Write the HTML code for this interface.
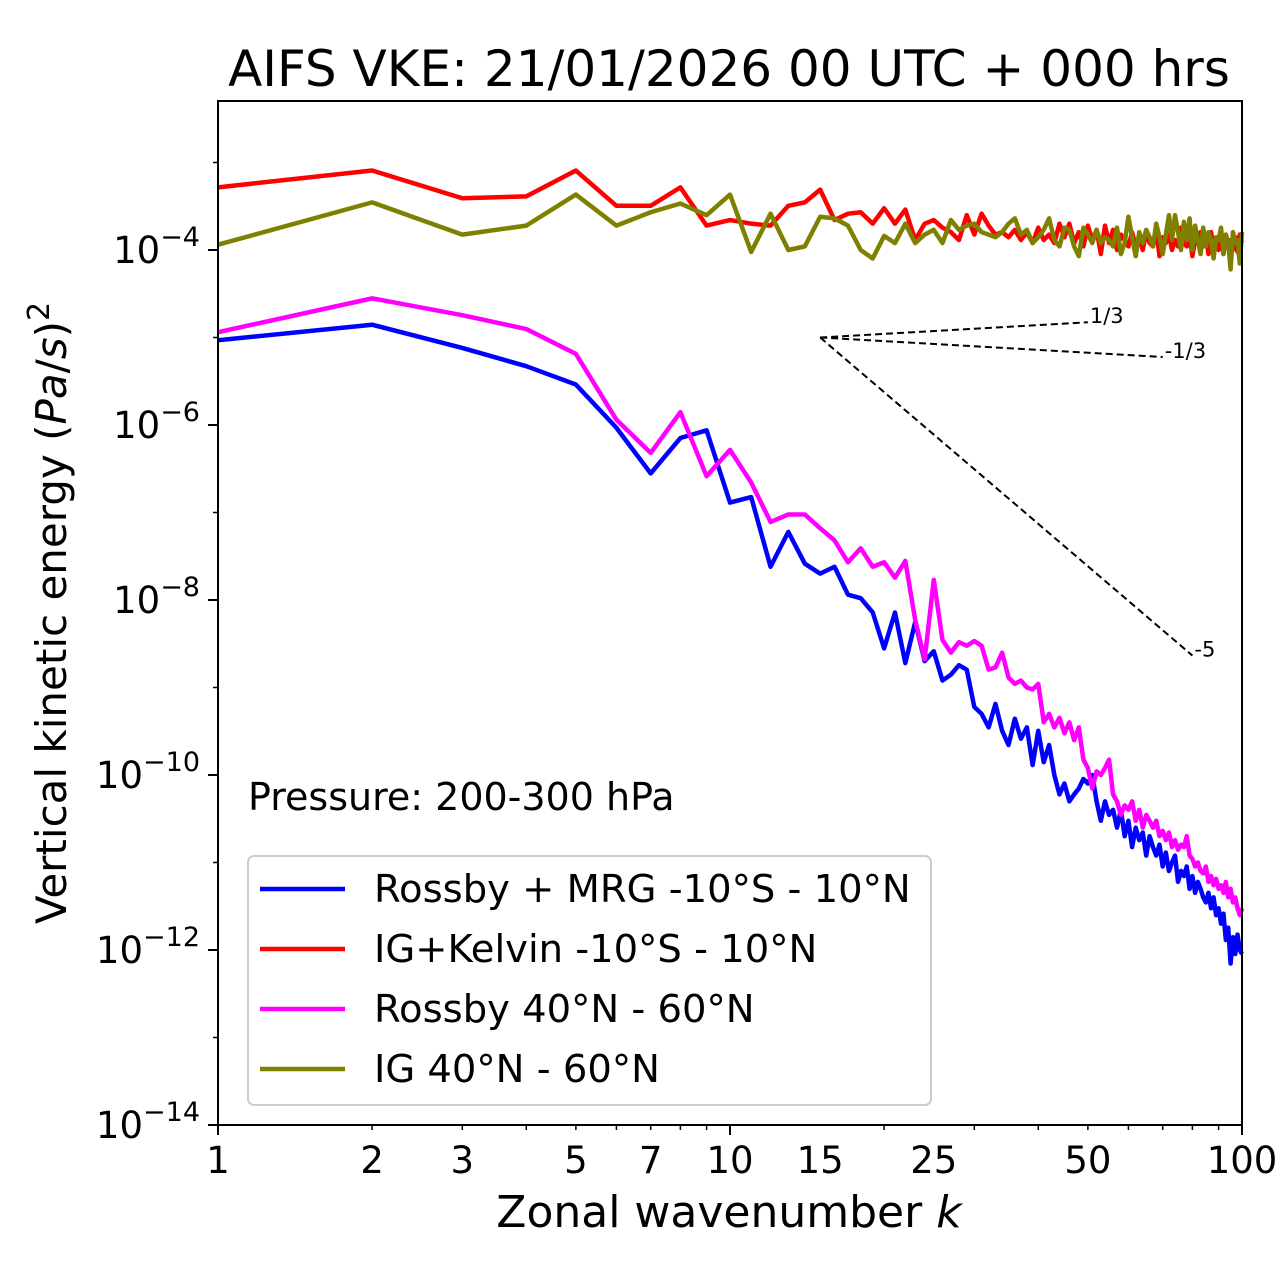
<!DOCTYPE html>
<html><head><meta charset="utf-8"><style>
body{margin:0;background:#fff;}
svg{display:block;font-family:"DejaVu Sans","Liberation Sans",sans-serif;}
</style></head><body>
<svg id="chart" width="1280" height="1288" viewBox="0 0 1280 1288" xmlns="http://www.w3.org/2000/svg">
<rect x="0" y="0" width="1280" height="1288" fill="#fff"/>
<text x="729" y="86" font-size="50" text-anchor="middle">AIFS VKE: 21/01/2026 00 UTC + 000 hrs</text>
<g id="series"></g>
<g id="ticks"></g>
<rect x="218" y="101" width="1024" height="1024" fill="none" stroke="#000" stroke-width="2"/>
<text x="729" y="1227" font-size="44" text-anchor="middle">Zonal wavenumber <tspan font-style="italic">k</tspan></text>
<text transform="translate(66,613) rotate(-90)" font-size="42" text-anchor="middle">Vertical kinetic energy (<tspan font-style="italic">Pa</tspan>/<tspan font-style="italic">s</tspan>)<tspan dy="-17" font-size="30">2</tspan></text>
<text x="248" y="810" font-size="38">Pressure: 200-300 hPa</text>
<g>
<rect x="248" y="856" width="683" height="249" rx="6" fill="#fff" fill-opacity="0.8" stroke="#ccc" stroke-width="2"/>
<line x1="260" y1="889" x2="345" y2="889" stroke="#0000ff" stroke-width="4.5"/>
<text x="374" y="902" font-size="38.5">Rossby + MRG -10°S - 10°N</text>
<line x1="260" y1="949" x2="345" y2="949" stroke="#ff0000" stroke-width="4.5"/>
<text x="374" y="962" font-size="38.5">IG+Kelvin -10°S - 10°N</text>
<line x1="260" y1="1009" x2="345" y2="1009" stroke="#ff00ff" stroke-width="4.5"/>
<text x="374" y="1022" font-size="38.5">Rossby 40°N - 60°N</text>
<line x1="260" y1="1069" x2="345" y2="1069" stroke="#808000" stroke-width="4.5"/>
<text x="374" y="1082" font-size="38.5">IG 40°N - 60°N</text>
</g>
</svg>
<script>
const xTickValues=[1,2,3,5,7,10,15,25,50,100];
const yTickExps=[-4,-6,-8,-10,-12,-14];
const refStartK=15, refStartV=1e-5;
const refSlopes=[1/3,-1/3,-5];
const refEndK=[50,70,80];
const refLabels=["1/3","-1/3","-5"];
const headRossbyMrg=[9.3e-6,1.4e-5,7.6e-6,4.7e-6,2.9e-6,9.3e-7,2.8e-7,7.1e-7,8.7e-7,1.3e-7,1.5e-7,2.4e-8,6e-8,2.6e-8,2.0e-8,2.4e-8,1.15e-8,1.05e-8,7.2e-9,2.8e-9,7.2e-9,1.9e-9,5.6e-9,2e-9];
const tailRossbyMrg=[2.6e-9,1.2e-9,1.4e-9,1.8e-9,1.6e-9,6e-10,5e-10,3.5e-10,6.5e-10,3.2e-10,2.2e-10,4.4e-10,2.6e-10,3.5e-10,1.3e-10,3.2e-10,1.4e-10,2.2e-10,1e-10,6e-11,8e-11,5e-11,6e-11,7e-11,9e-11,8e-11,1e-10,5e-11,3e-11,5e-11,3.5e-11,4e-11,2.5e-11,4e-11,2e-11,3e-11,1.5e-11,2.5e-11,1.8e-11,2.2e-11,1.2e-11,2e-11,1.5e-11,1.2e-11,1.6e-11,9e-12,1.3e-11,8e-12,1e-11,1.2e-11,6e-12,8e-12,7e-12,9e-12,5e-12,7e-12,4.5e-12,6e-12,5e-12,4e-12,3.5e-12,4.5e-12,3e-12,4e-12,2.5e-12,3e-12,2e-12,2.6e-12,1.3e-12,1.8e-12,7e-13,1.4e-12,9e-13,1.5e-12,1e-12,9e-13];
const headIgKelvin=[5.2e-4,8.1e-4,3.9e-4,4.1e-4,8.1e-4,3.2e-4,3.2e-4,5.2e-4,1.9e-4,2.2e-4,2.0e-4,1.9e-4,3.2e-4,3.5e-4,4.9e-4,2.2e-4,2.6e-4,2.7e-4,2.0e-4,3.0e-4,2.0e-4,2.9e-4,1.3e-4,2e-4];
const tailIgKelvin=[2.2e-4,1.8e-4,1.6e-4,1.3e-4,2.5e-4,1.5e-4,2.6e-4,1.9e-4,1.5e-4,1.6e-4,1.4e-4,1.7e-4,1.3e-4,1.6e-4,1.2e-4,1.8e-4,1.3e-4,1.5e-4,1.2e-4,2e-4,1.4e-4,2e-4,1.2e-4,1.6e-4,1.1e-4,1.9e-4,1.3e-4,1.7e-4,9e-5,1.9e-4,1.2e-4,1.7e-4,1e-4,1.5e-4,1.3e-4,1.1e-4,1.6e-4,1.1e-4,1.4e-4,1e-4,1.6e-4,1.2e-4,1.1e-4,1.7e-4,8.5e-5,1.4e-4,1.2e-4,1.5e-4,1e-4,1.3e-4,1.1e-4,1.8e-4,1.2e-4,1.1e-4,1.5e-4,8.5e-5,1.3e-4,1.2e-4,1.6e-4,1.1e-4,1.5e-4,9e-5,1.6e-4,1.1e-4,1.3e-4,1e-4,1.4e-4,9e-5,1.5e-4,1.1e-4,1.3e-4,1e-4,1.4e-4,9.5e-5,1.5e-4,1.2e-4];
const headRossbyMid=[1.15e-5,2.8e-5,1.8e-5,1.25e-5,6.5e-6,1.15e-6,4.8e-7,1.4e-6,2.6e-7,5.2e-7,2.2e-7,7.8e-8,9.5e-8,9.5e-8,6.6e-8,4.8e-8,2.7e-8,3.9e-8,2.4e-8,2.7e-8,1.8e-8,2.8e-8,5.9e-9,2.1e-9];
const tailRossbyMid=[1.7e-8,3.5e-9,2.5e-9,3.3e-9,3e-9,3.4e-9,3e-9,1.6e-9,1.7e-9,2.5e-9,1.3e-9,1.1e-9,1.2e-9,1e-9,9.5e-10,1.1e-9,4e-10,5e-10,3.5e-10,4.5e-10,3e-10,4e-10,2.5e-10,3.5e-10,1.5e-10,1.2e-10,7e-11,1.1e-10,1e-10,1.2e-10,1.5e-10,6e-11,5e-11,3.5e-11,4.5e-11,4e-11,5e-11,3e-11,4e-11,2.5e-11,3.5e-11,3e-11,2.5e-11,3e-11,2e-11,2.3e-11,1.8e-11,2.2e-11,1.5e-11,1.8e-11,1.4e-11,1.6e-11,1.5e-11,2e-11,1.2e-11,1.1e-11,9e-12,1e-11,8e-12,7.5e-12,9e-12,6e-12,7e-12,5.5e-12,6.5e-12,5e-12,5.5e-12,4.5e-12,6e-12,4e-12,5e-12,3.5e-12,4e-12,3e-12,2.5e-12,3e-12];
const headIgMid=[1.15e-4,3.5e-4,1.5e-4,1.9e-4,4.3e-4,1.9e-4,2.7e-4,3.4e-4,2.5e-4,4.3e-4,9.5e-5,2.6e-4,1e-4,1.1e-4,2.4e-4,2.3e-4,1.9e-4,1e-4,8e-5,1.45e-4,1.2e-4,2e-4,1.2e-4,1.5e-4];
const tailIgMid=[1.7e-4,1.2e-4,2.2e-4,1.7e-4,1.9e-4,2e-4,1.6e-4,1.5e-4,1.4e-4,1.6e-4,2e-4,2.3e-4,1.5e-4,1.7e-4,1.2e-4,1.4e-4,1.7e-4,2.3e-4,1.3e-4,1.1e-4,1.8e-4,1.7e-4,1.1e-4,8.5e-5,1.8e-4,1.5e-4,1.2e-4,1.7e-4,1.2e-4,1.4e-4,1.3e-4,1.1e-4,1.8e-4,9e-5,1.2e-4,2.4e-4,1.4e-4,8.5e-5,1.6e-4,1.2e-4,1.7e-4,1.4e-4,1.1e-4,2e-4,1.4e-4,9e-5,1.5e-4,2.5e-4,1.3e-4,2.5e-4,1.6e-4,1e-4,2.1e-4,1.3e-4,2.3e-4,1e-4,1.9e-4,1.3e-4,9e-5,1.8e-4,1.1e-4,1.6e-4,1.3e-4,8e-5,1.4e-4,1.3e-4,1.8e-4,9e-5,1.5e-4,1.2e-4,6e-5,1.6e-4,1.2e-4,1.3e-4,7e-5,1.6e-4];

const NS="http://www.w3.org/2000/svg";
const X0=218,X1=1242,YTOP=101,YBOT=1125;
const logTop=-4+(250-YTOP)/87.5, logBot=-14;
function xs(k){return X0+(X1-X0)*Math.log10(k)/2;}
function ys(v){return YTOP+(logTop-Math.log10(v))/(logTop-logBot)*(YBOT-YTOP);}
const gS=document.getElementById('series'), gT=document.getElementById('ticks');
function mk(tag,attrs,parent){const e=document.createElementNS(NS,tag);for(const a in attrs)e.setAttribute(a,attrs[a]);parent.appendChild(e);return e;}

const seriesList=[
 {name:'series-rossby-mrg',color:'#0000ff',vals:headRossbyMrg.concat(tailRossbyMrg)},
 {name:'series-ig-kelvin',color:'#ff0000',vals:headIgKelvin.concat(tailIgKelvin)},
 {name:'series-rossby-midlat',color:'#ff00ff',vals:headRossbyMid.concat(tailRossbyMid)},
 {name:'series-ig-midlat',color:'#808000',vals:headIgMid.concat(tailIgMid)}
];
seriesList.forEach(s=>{
  const pts=s.vals.map((v,i)=>xs(i+1).toFixed(2)+','+ys(v).toFixed(2)).join(' ');
  const pl=mk('polyline',{points:pts,fill:'none',stroke:s.color,'stroke-width':4.5,'stroke-linejoin':'round'},gS);
  
  
});
refSlopes.forEach((sl,i)=>{
  const k2=refEndK[i], v2=refStartV*Math.pow(k2/refStartK,sl);
  const ln=mk('line',{x1:xs(refStartK),y1:ys(refStartV),x2:xs(k2),y2:ys(v2),stroke:'#000','stroke-width':2,'stroke-dasharray':'7,4'},gS);
  
  
  const t=mk('text',{x:xs(k2)+2,y:ys(v2)+1,'font-size':21},gS);
  t.textContent=refLabels[i];
  
  
});
for(let d=0;d<2;d++)for(let m=1;m<10;m++){const k=m*Math.pow(10,d);const x=xs(k);
  mk('line',{x1:x,y1:YBOT,x2:x,y2:YBOT+(m===1?10:5),stroke:'#000','stroke-width':m===1?2:1.5},gT);}
mk('line',{x1:X1,y1:YBOT,x2:X1,y2:YBOT+10,stroke:'#000','stroke-width':2},gT);
xTickValues.forEach(k=>{const t=mk('text',{x:xs(k),y:YBOT+48,'font-size':37,'text-anchor':'middle'},gT);t.textContent=k;
  
  });
for(let e=-14;e<=-3;e++){const y=ys(Math.pow(10,e));
  mk('line',{x1:X0-(e%2===0?10:5),y1:y,x2:X0,y2:y,stroke:'#000','stroke-width':e%2===0?2:1.5},gT);}
yTickExps.forEach(e=>{const y=ys(Math.pow(10,e));
  const t=mk('text',{x:200,y:y+13,'font-size':37,'text-anchor':'end'},gT);
  
  
  const a=mk('tspan',{},t);a.textContent='10';
  const b=mk('tspan',{dy:-17,'font-size':27},t);b.textContent='\u2212'+Math.abs(e);});
</script>
</body></html>
